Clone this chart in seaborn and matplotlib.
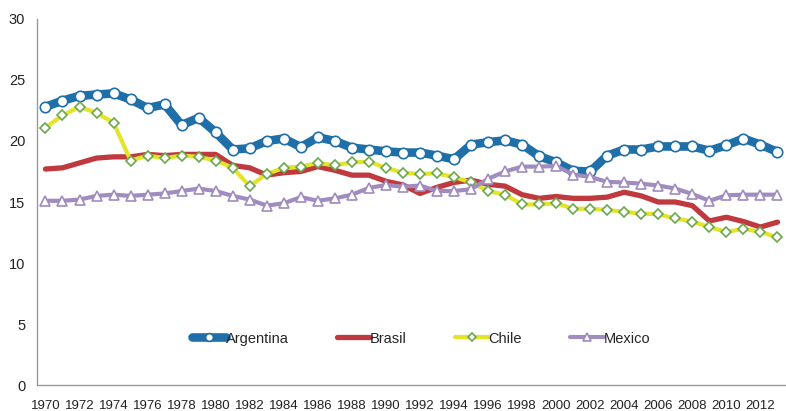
import numpy as np
import pandas as pd
import seaborn as sns
import matplotlib.pyplot as plt
from matplotlib.ticker import MultipleLocator, FixedLocator

# Data
years = list(range(1970, 2014))
argentina = [22.8, 23.3, 23.7, 23.8, 23.9, 23.4, 22.7, 23.0, 21.3, 21.9, 20.7, 19.3, 19.4, 20.0, 20.2,
             19.5, 20.3, 20.0, 19.45, 19.3, 19.15, 19.05, 19.05, 18.8, 18.5, 19.7, 19.9, 20.05, 19.7, 18.75,
             18.25, 17.55, 17.5, 18.8, 19.3, 19.3, 19.55, 19.55, 19.55, 19.2, 19.65, 20.2, 19.7, 19.1]
brasil = [17.7, 17.8, 18.2, 18.6, 18.7, 18.7, 18.9, 18.8, 18.9, 18.9, 18.9, 18.0, 17.8, 17.2, 17.4,
          17.5, 17.9, 17.6, 17.2, 17.2, 16.7, 16.4, 15.7, 16.2, 16.6, 16.8, 16.45, 16.3, 15.6, 15.3,
          15.45, 15.3, 15.3, 15.4, 15.8, 15.5, 15.0, 15.0, 14.7, 13.45, 13.75, 13.4, 12.95, 13.35]
chile = [21.1, 22.1, 22.8, 22.3, 21.5, 18.4, 18.8, 18.6, 18.8, 18.7, 18.4, 17.8, 16.3, 17.3, 17.8,
         17.9, 18.2, 18.0, 18.25, 18.3, 17.8, 17.4, 17.3, 17.35, 17.05, 16.6, 15.9, 15.6, 14.8, 14.8,
         14.9, 14.45, 14.45, 14.35, 14.2, 14.05, 14.0, 13.65, 13.4, 12.95, 12.55, 12.8, 12.55, 12.1]
mexico = [15.1, 15.1, 15.2, 15.5, 15.6, 15.5, 15.6, 15.7, 15.9, 16.1, 15.9, 15.5, 15.2, 14.7, 14.9,
          15.4, 15.1, 15.3, 15.6, 16.15, 16.4, 16.25, 16.35, 15.9, 15.9, 16.05, 16.9, 17.5, 17.9, 17.9,
          17.95, 17.25, 17.05, 16.65, 16.6, 16.5, 16.35, 16.1, 15.65, 15.1, 15.55, 15.6, 15.6, 15.6]

df = pd.DataFrame({'year': years, 'Argentina': argentina, 'Brasil': brasil,
                   'Chile': chile, 'Mexico': mexico})

sns.set_style("white")
plt.rcParams['font.family'] = ['Liberation Sans', 'DejaVu Sans']

# style per series: color, linewidth, marker, marker edge, marker size
styles = {
    'Argentina': dict(color='#1f6fa8', lw=6.2, marker='o', mec='#1f6fa8', ms=7.5),
    'Brasil': dict(color='#c0393e', lw=3.8, marker=None, mec=None, ms=0),
    'Chile': dict(color='#e4e42a', lw=3, marker='D', mec='#6aa84f', ms=5.5),
    'Mexico': dict(color='#a08cbe', lw=3, marker='^', mec='#a08cbe', ms=7),
}

fig, ax = plt.subplots(figsize=(7.86, 4.11), dpi=100)
for name, s in styles.items():
    kw = dict(color=s['color'], linewidth=s['lw'], label=name)
    if s['marker']:
        kw.update(marker=s['marker'], markerfacecolor='white', markeredgecolor=s['mec'],
                  markersize=s['ms'], markeredgewidth=1.2)
    sns.lineplot(data=df, x='year', y=name, ax=ax, **kw)

ax.set_xlim(1969.5, 2013.5)
ax.set_ylim(0, 30)
ax.yaxis.set_major_locator(MultipleLocator(5))
ax.xaxis.set_major_locator(FixedLocator(years[::2]))
ax.xaxis.set_minor_locator(FixedLocator(np.arange(1969.5, 2014, 1)))
ax.tick_params(axis='x', which='major', length=0, labelsize=9.5, colors='#222222', pad=11)
ax.tick_params(axis='x', which='minor', length=5, color='#999999', width=0.8, direction='out')
ax.tick_params(axis='y', length=5, width=0.8, labelsize=10.5, direction='out',
               colors='#999999', labelcolor='#222222')
ax.set_xlabel('')
ax.set_ylabel('')
for side in ['top', 'right']:
    ax.spines[side].set_visible(False)
for side in ['left', 'bottom']:
    ax.spines[side].set_color('#999999')
    ax.spines[side].set_linewidth(1)

ax.legend(loc='center', bbox_to_anchor=(0.513, 0.127), ncol=4, frameon=False,
          fontsize=10.5, handlelength=2.3, handletextpad=0.0, columnspacing=3.3,
          numpoints=1, markerscale=0.75)

fig.subplots_adjust(left=0.047, right=1.0, top=0.954, bottom=0.063)
fig.savefig('out.png', dpi=100)
